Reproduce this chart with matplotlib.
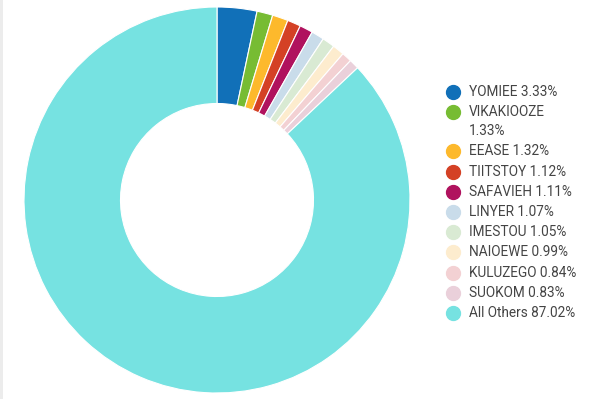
import matplotlib
matplotlib.use("Agg")
import matplotlib.pyplot as plt
from matplotlib.lines import Line2D
from matplotlib.patches import Rectangle

names = ["YOMIEE", "VIKAKIOOZE", "EEASE", "TIITSTOY", "SAFAVIEH", "LINYER",
         "IMESTOU", "NAIOEWE", "KULUZEGO", "SUOKOM", "All Others"]
values = [3.33, 1.33, 1.32, 1.12, 1.11, 1.07, 1.05, 0.99, 0.84, 0.83, 87.02]
colors = ["#1170b8", "#77bc33", "#fdb92c", "#d44125", "#b0125e", "#c9dcea",
          "#d9ead3", "#fdecce", "#f3d1d3", "#ead0da", "#76e2e1"]
labels = ["YOMIEE 3.33%", "VIKAKIOOZE\n1.33%", "EEASE 1.32%", "TIITSTOY 1.12%",
          "SAFAVIEH 1.11%", "LINYER 1.07%", "IMESTOU 1.05%", "NAIOEWE 0.99%",
          "KULUZEGO 0.84%", "SUOKOM 0.83%", "All Others 87.02%"]

W, H = 603, 399
fig = plt.figure(figsize=(W / 100, H / 100), dpi=100)
fig.patch.set_facecolor("white")

# left light-gray border
fig.add_artist(Rectangle((0, 0), 2.5 / W, 1, transform=fig.transFigure,
                         facecolor="#ececec", edgecolor="none"))

cx, cy, r = 217, 200, 193
ax = fig.add_axes([(cx - r) / W, (H - cy - r) / H, 2 * r / W, 2 * r / H])
ax.pie(values, colors=colors, startangle=90, counterclock=False, radius=1,
       wedgeprops=dict(width=0.5, edgecolor="white", linewidth=0.8))
ax.set_xlim(-1, 1)
ax.set_ylim(-1, 1)
ax.set_aspect("equal")
ax.axis("off")

# legend
y = 92
for lab, col in zip(labels, colors):
    fig.add_artist(Line2D([453 / W], [(H - y) / H], marker="o", markersize=10,
                          color=col, markeredgecolor=col,
                          transform=fig.transFigure))
    fig.text(469 / W, (H - y) / H, lab.split("\n")[0], fontsize=9.8,
             family="Roboto", color="#444444", va="center", ha="left")
    if "\n" in lab:
        y += 19
        fig.text(469 / W, (H - y) / H, lab.split("\n")[1], fontsize=9.8,
                 family="Roboto", color="#444444", va="center", ha="left")
    y += 20.2

fig.savefig("out.png", dpi=100)
